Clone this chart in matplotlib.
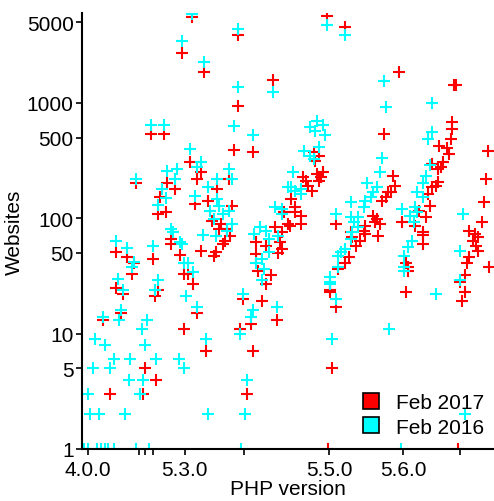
import numpy as np
import matplotlib.pyplot as plt
from matplotlib.lines import Line2D

plt.rcParams['font.family'] = ['Liberation Sans', 'DejaVu Sans']
plt.rcParams['font.size'] = 15

# release index along the x axis (one step per PHP release), websites per release
rel_2017 = [34, 41, 26, 55, 51, 56, 63, 81, 81, 79,
            43, 47, 39, 42, 38, 45, 45, 50, 15, 21,
            25, 24, 35, 52, 15, 19, 38, 36, 52, 18,
            8, 31, 37, 12, 30, 54, 57, 61, 68, 59, 64,
            89, 61, 59, 76, 70, 58, 65, 78, 67, 72, 71, 75, 77, 74, 73, 69,
            106, 108, 101, 105, 91, 96, 104, 105, 91, 103, 92, 99,
            96, 84, 94, 88, 82, 102, 89, 86,
            129, 139, 100, 168, 198, 199, 216,
            160, 122, 125, 123, 116, 118, 119, 121, 124, 126, 127, 125,
            110, 112, 112, 115, 115, 109, 162, 161, 159, 134, 154, 156, 155, 158, 157, 150, 149, 142, 143, 150, 147, 145, 141, 139,
            135, 131, 131, 134, 132, 130,
            197, 197, 196, 190, 194, 195, 192, 191, 186, 189, 189, 188, 186, 165, 166, 164, 215, 184, 185, 214,
            179, 183, 170, 177, 213, 206, 209, 211, 208, 210, 211, 181, 181, 181, 172, 173, 206, 205, 204, 217,
            173, 172, 201, 204, 202, 200]
sites_2017 = [540, 540, 200, 305, 2700, 5500, 1850, 3900, 940, 390,
              200, 180, 152, 113, 108, 66, 60, 48, 51, 46,
              41, 33, 44, 33, 25, 22, 24, 21, 11, 15,
              13, 5, 4, 3, 3, 33, 27, 52, 47, 15, 7,
              375, 250, 218, 218, 180, 132, 140, 127, 94, 89, 81, 81, 70, 63, 60, 51,
              113, 89, 84, 76, 62, 57, 62, 54, 49, 50, 35, 32,
              27, 20, 19, 12, 11, 13, 7, 3,
              5700, 4500, 1570, 1850, 1420, 1440, 385,
              540, 375, 345, 315, 228, 210, 190, 172, 240, 228, 250, 210,
              147, 125, 113, 104, 89, 86, 168, 152, 140, 89, 104, 98, 92, 89, 70, 86, 78, 76, 69, 73, 63, 57, 46, 41,
              36, 24, 23, 17, 5, 1,
              685, 595, 490, 420, 405, 360, 305, 280, 295, 265, 205, 190, 185, 230, 190, 168, 218, 162, 127, 138,
              115, 102, 92, 86, 92, 78, 73, 69, 63, 57, 52, 76, 71, 60, 41, 38, 46, 41, 32, 38,
              35, 23, 28, 23, 19, 1]

rel_2016 = [34, 41, 26, 55, 51, 56, 63, 81, 81, 79,
            43, 48, 47, 40, 42, 38, 45, 46, 50, 15,
            21, 25, 24, 35, 52, 16, 38, 19, 36, 53,
            18, 17, 8, 32, 29, 4, 9, 31, 14, 23, 37, 49,
            3, 12, 52, 22, 30, 0, 28, 1, 6, 20,
            -2, 0, 5, 7, 9, 11, 14, 26, 33,
            54, 57, 51, 59, 64, 65, 84, 85, 83,
            89, 61, 59, 76, 78, 70, 65, 58, 70, 71, 66, 76, 73, 68, 78, 75, 62, 69,
            108, 101, 105, 105, 93, 90, 96, 98, 103, 98, 94, 91, 95,
            94, 89, 88, 82, 102, 86,
            129, 139, 100, 160, 186,
            161, 159, 158, 124, 127, 120, 123, 128, 125, 117, 120, 122,
            111, 110, 112, 115, 115, 151, 156, 154, 153, 142, 149, 150,
            134, 142, 146, 144, 146, 143, 142, 139, 137, 135, 135, 131,
            131, 131, 134, 163, 132,
            186, 184, 185, 183, 181, 178, 181, 170, 177, 178, 174, 176, 203, 175, 173, 171, 171, 201,
            171, 188, 201, 204, 169]
sites_2016 = [640, 640, 220, 400, 3400, 5900, 2250, 4400, 1370, 630,
              255, 265, 218, 180, 150, 130, 81, 76, 62, 63,
              55, 42, 38, 57, 41, 30, 29, 24, 24, 21,
              16, 13, 14, 13, 11, 9, 8, 8, 6, 6, 6, 6,
              5, 5, 5, 4, 4, 3, 3, 2, 2, 2,
              1, 1, 1, 1, 1, 1, 1, 1, 1,
              41, 34, 60, 17, 9, 2, 22, 2, 1,
              525, 305, 280, 265, 220, 218, 185, 155, 147, 127, 115, 115, 108, 98, 89, 78, 71, 70,
              185, 125, 120, 108, 84, 73, 78, 66, 70, 51, 44, 41, 36,
              29, 16, 14, 10, 17, 4,
              4700, 3900, 1240, 1530, 1000,
              920, 330, 250, 700, 640, 620, 570, 525, 410, 380, 345, 325,
              250, 185, 172, 180, 162, 200, 185, 168, 152, 138, 125, 140,
              108, 102, 102, 92, 84, 76, 66, 54, 51, 47, 38, 31,
              28, 27, 20, 11, 9,
              560, 490, 290, 230, 200, 168, 152, 120, 125, 113, 104, 92, 108, 63, 56, 47, 38, 52,
              35, 22, 29, 2, 1]

tick_pos = [0, 27.6, 30.8, 35.1, 52.4, 84.3, 130.3, 170.3, 201.1]
tick_labels = ['4.0.0', '', '', '', '5.3.0', '', '5.5.0', '5.6.0', '']
y_ticks = [1, 5, 10, 50, 100, 500, 1000, 5000]

fig = plt.figure(figsize=(4.94, 5.02), dpi=100)
ax = fig.add_axes([82 / 494, 1 - 450 / 502, 412 / 494, 436 / 502])

ax.plot(rel_2017, sites_2017, '+', color='#FF0000', ms=9, mew=1.5)
ax.plot(rel_2016, sites_2016, '+', color='#00FFFF', ms=9, mew=1.5)

ax.set_yscale('log')
ax.set_ylim(1, 6000)
ax.set_xlim(-3.2, 219.5)
ax.set_yticks(y_ticks)
ax.set_yticklabels([str(v) for v in y_ticks])
ax.yaxis.set_minor_locator(plt.NullLocator())
ax.set_xticks(tick_pos)
ax.set_xticklabels(tick_labels)

for s in ['top', 'right']:
    ax.spines[s].set_visible(False)
for s in ['left', 'bottom']:
    ax.spines[s].set_linewidth(1.5)
ax.tick_params(width=1.2, length=4, pad=2)
ax.tick_params(axis='x', pad=4)

ax.set_xlabel('PHP version', labelpad=0)
ax.set_ylabel('Websites', labelpad=2)

handles = [Line2D([], [], ls='none', marker='s', ms=11, mfc='#FF0000', mec='black', mew=1.2),
           Line2D([], [], ls='none', marker='s', ms=11, mfc='#00FFFF', mec='black', mew=1.2)]
fig.legend(handles, ['Feb 2017', 'Feb 2016'], loc='upper left',
           bbox_to_anchor=(348 / 494, 1 - 384 / 502), frameon=False,
           borderpad=0, handletextpad=0.6, labelspacing=0.25, handlelength=1.2)

fig.savefig('out.png', dpi=100)
